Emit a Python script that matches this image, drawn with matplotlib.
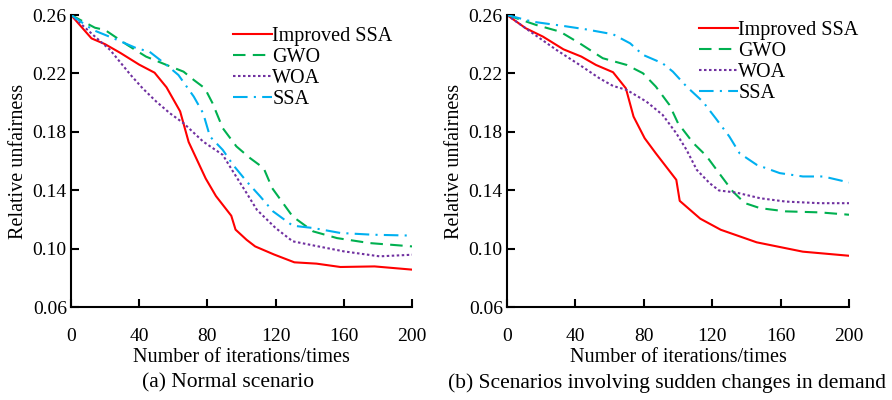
import matplotlib.pyplot as plt
import numpy as np

plt.rcParams['font.family'] = ['Liberation Serif', 'DejaVu Serif']
plt.rcParams['font.size'] = 14

# (a) Normal scenario
a_ssa_imp_x = [0, 12, 20, 29, 40, 49, 56, 64, 69, 79, 85, 94, 96.5, 103, 108, 119, 131, 144, 158, 178, 200]
a_ssa_imp_y = [0.260, 0.244, 0.240, 0.234, 0.226, 0.2205, 0.2105, 0.194, 0.173, 0.148, 0.136, 0.1225, 0.113,
               0.106, 0.1015, 0.096, 0.0906, 0.0897, 0.0874, 0.0878, 0.0856]
a_gwo_x = [0, 14, 20, 33, 44, 56, 66, 72, 78.5, 83, 89, 97, 105, 113, 118, 130, 142, 156, 175, 200]
a_gwo_y = [0.260, 0.2513, 0.2497, 0.2395, 0.2315, 0.2258, 0.2212, 0.2155, 0.2098, 0.1996, 0.1825, 0.170,
           0.162, 0.1551, 0.1414, 0.122, 0.1118, 0.1072, 0.1038, 0.1015]
a_woa_x = [0, 13, 23, 35, 42, 50, 58, 66, 77.5, 89, 95, 103, 109, 120, 130, 142, 160, 181, 200]
a_woa_y = [0.260, 0.2463, 0.236, 0.2189, 0.2098, 0.2007, 0.1927, 0.1859, 0.1733, 0.1642, 0.1528, 0.138,
           0.1266, 0.1141, 0.105, 0.1022, 0.0981, 0.0947, 0.0958]
a_ssa_x = [0, 13, 25, 38.5, 46, 56, 63, 72, 77.5, 81.5, 89, 95, 103, 111, 118.5, 130, 142, 158, 177, 200]
a_ssa_y = [0.260, 0.2497, 0.244, 0.2372, 0.2349, 0.2258, 0.2189, 0.2041, 0.1927, 0.1768, 0.1676, 0.1574,
           0.146, 0.1357, 0.1255, 0.1157, 0.1141, 0.1107, 0.1095, 0.1089]

# (b) Scenarios involving sudden changes in demand
b_ssa_imp_x = [0, 11, 21, 33, 43.5, 52, 62, 69.5, 74, 80.5, 87, 93, 99, 101, 113, 125, 136, 146, 159.5, 173, 200]
b_ssa_imp_y = [0.260, 0.2509, 0.2452, 0.2365, 0.2315, 0.2258, 0.2208, 0.2098, 0.1904, 0.1756, 0.1653,
               0.1562, 0.1471, 0.1327, 0.1205, 0.1129, 0.1084, 0.1043, 0.1011, 0.0979, 0.0951]
b_gwo_x = [0, 17, 31, 42.5, 56, 70, 79.5, 87, 95, 100, 109, 116.5, 124, 132, 139, 148, 163, 183, 200]
b_gwo_y = [0.260, 0.2532, 0.2486, 0.2406, 0.2304, 0.2258, 0.2201, 0.211, 0.1984, 0.1859, 0.1722, 0.1636,
           0.1517, 0.1392, 0.1312, 0.1277, 0.1255, 0.1248, 0.1232]
b_woa_x = [0, 15, 29, 42.5, 54, 62, 70, 81.5, 91, 99, 105, 111, 118.5, 124, 134, 148, 163, 183, 200]
b_woa_y = [0.260, 0.2475, 0.236, 0.2258, 0.2167, 0.2114, 0.2087, 0.2007, 0.1916, 0.179, 0.1676, 0.1539,
           0.1448, 0.1398, 0.1384, 0.1345, 0.1322, 0.1311, 0.1311]
b_ssa_x = [0, 15, 33, 46, 62, 72, 79.5, 91, 97, 105, 114.5, 122, 130, 136, 146, 159.5, 173, 185, 200]
b_ssa_y = [0.260, 0.2554, 0.2525, 0.2502, 0.2468, 0.2406, 0.2327, 0.2269, 0.2212, 0.211, 0.2007, 0.1893,
           0.1768, 0.1653, 0.1574, 0.1517, 0.1494, 0.1494, 0.1453]

labels = ['Improved SSA', 'GWO', 'WOA', 'SSA']
colors = ['#ff0000', '#00b050', '#7030a0', '#00b0f0']
styles = ['-', (0, (6, 3.5)), (0, (1.2, 1.2)), (0, (7, 3, 1, 3))]

x_ticks = [0, 40, 80, 120, 160, 200]
y_ticks = [0.06, 0.10, 0.14, 0.18, 0.22, 0.26]

fig = plt.figure(figsize=(8.92, 4.0), dpi=100)
ax1 = fig.add_axes([0.0796, 0.2325, 0.3823, 0.73])
ax2 = fig.add_axes([0.5684, 0.2325, 0.3834, 0.73])

panels = [
    (ax1, [(a_ssa_imp_x, a_ssa_imp_y), (a_gwo_x, a_gwo_y), (a_woa_x, a_woa_y), (a_ssa_x, a_ssa_y)],
     '(a) Normal scenario', (0.475, 0.96), 228),
    (ax2, [(b_ssa_imp_x, b_ssa_imp_y), (b_gwo_x, b_gwo_y), (b_woa_x, b_woa_y), (b_ssa_x, b_ssa_y)],
     '(b) Scenarios involving sudden changes in demand', (0.561, 0.98), 667),
]

for ax, series, caption, leg_pos, cap_x in panels:
    for (xs, ys), lab, c, ls in zip(series, labels, colors, styles):
        ax.plot(xs, ys, color=c, linestyle=ls, linewidth=1.5, label=lab)
    ax.set_xlim(0, 200)
    ax.set_ylim(0.06, 0.26)
    ax.set_xticks(x_ticks)
    ax.set_yticks(y_ticks)
    ax.set_yticklabels([f'{v:.2f}' for v in y_ticks])
    ax.spines['top'].set_visible(False)
    ax.spines['right'].set_visible(False)
    ax.spines['left'].set_linewidth(1.5)
    ax.spines['bottom'].set_linewidth(1.5)
    ax.tick_params(direction='in', length=6, width=1.5, labelsize=14)
    ax.tick_params(axis='x', pad=15)
    ax.tick_params(axis='y', pad=3)
    ax.set_xlabel('Number of iterations/times', fontsize=14.5, labelpad=2)
    ax.set_ylabel('Relative unfairness', fontsize=14.5, labelpad=3)
    ax.legend(loc='upper left', bbox_to_anchor=leg_pos, frameon=False, fontsize=14.5,
              handlelength=1.95, handletextpad=0.0, labelspacing=0.1, borderpad=0,
              borderaxespad=0)
    fig.text(cap_x / 892, 1 - 383 / 400, caption, ha='center', va='center', fontsize=15.5)

fig.savefig('out.png', dpi=100)
